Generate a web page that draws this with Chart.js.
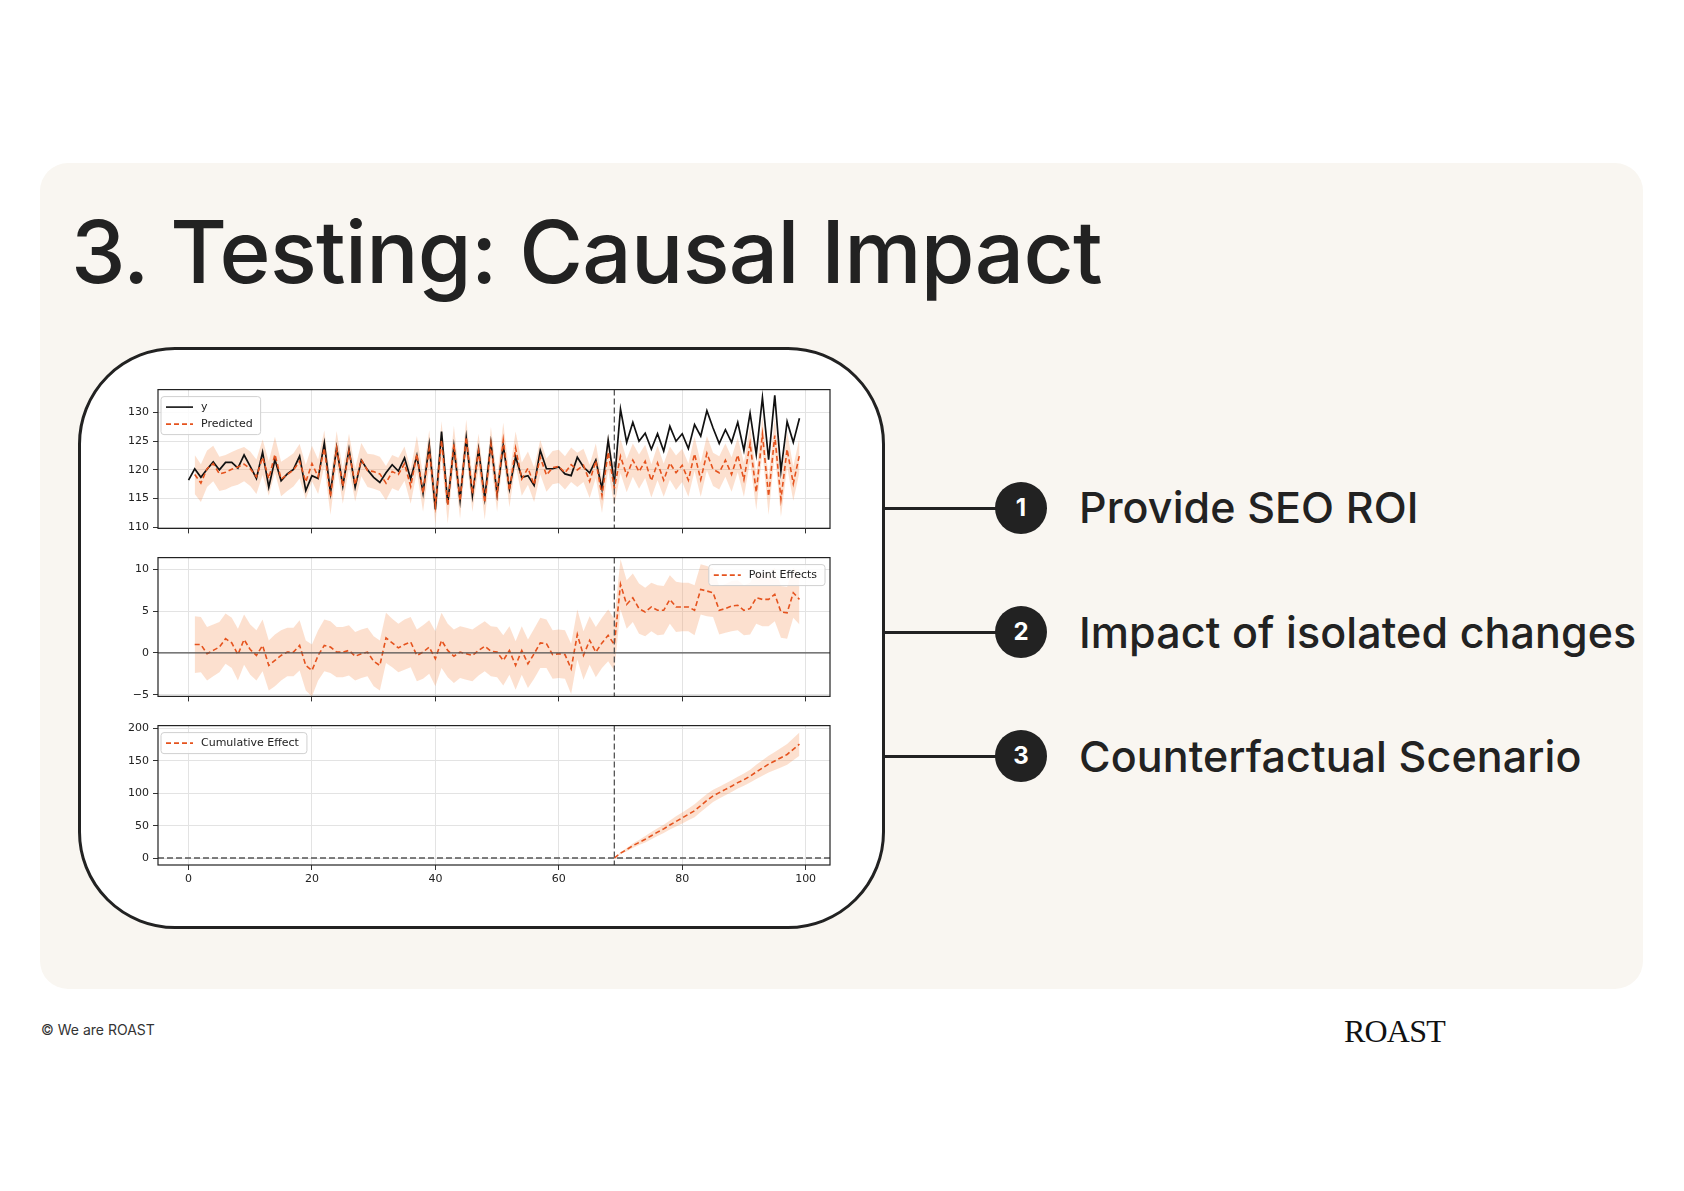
<!DOCTYPE html>
<html>
<head>
<meta charset="utf-8">
<title>3. Testing: Causal Impact</title>
<script src="https://cdn.jsdelivr.net/npm/chart.js@4.4.1/dist/chart.umd.min.js"></script>
<style>
  html, body { margin: 0; padding: 0; background: #ffffff; }
  body { width: 1684px; height: 1191px; position: relative; overflow: hidden; font-family: Inter, "Noto Sans", sans-serif; color: #222; }
  .card { position: absolute; left: 40px; top: 163px; width: 1603px; height: 826px; background: #f9f6f1; border-radius: 28px; }
  .title { position: absolute; left: 71px; top: 208px; font-size: 87px; line-height: 87px; font-weight: 500; color: #222; white-space: nowrap; letter-spacing: -0.7px; }
  .frame { position: absolute; left: 78px; top: 347px; width: 807px; height: 582px; box-sizing: border-box; border: 3px solid #222; border-radius: 97px; background: #fff; }
  canvas { position: absolute; left: 100px; }
  .link { position: absolute; left: 885px; width: 112px; height: 3px; background: #222; }
  .dot { position: absolute; left: 995px; width: 52px; height: 52px; border-radius: 50%; background: #222; color: #fff; font-weight: 700; font-size: 24px; line-height: 52px; text-align: center; }
  .item { position: absolute; left: 1079px; font-size: 43px; line-height: 43px; font-weight: 500; white-space: nowrap; color: #222; letter-spacing: 0.1px; }
  .foot { position: absolute; left: 41px; top: 1022px; font-size: 14px; line-height: 16px; color: #333; }
  .logo { position: absolute; left: 1344px; top: 1015px; font-family: "Liberation Serif", "DejaVu Serif", serif; font-size: 32px; line-height: 32px; letter-spacing: -0.8px; color: #111; }
</style>
</head>
<body>
<div class="card"></div>
<div class="title">3. Testing: Causal Impact</div>
<div class="frame"></div>
<canvas id="topChart" width="732" height="160" style="top:379px"></canvas>
<canvas id="midChart" width="732" height="160" style="top:547px"></canvas>
<canvas id="cumChart" width="732" height="180" style="top:715px"></canvas>

<div class="link" style="top:507px"></div>
<div class="link" style="top:631px"></div>
<div class="link" style="top:755px"></div>
<div class="dot" style="top:482px">1</div>
<div class="dot" style="top:606px">2</div>
<div class="dot" style="top:730px">3</div>
<div class="item" style="top:486px">Provide SEO ROI</div>
<div class="item" style="top:611px">Impact of isolated changes</div>
<div class="item" style="top:735px">Counterfactual Scenario</div>

<div class="foot">© We are ROAST</div>
<div class="logo">ROAST</div>

<script>
// x axis
const xTicks = [0, 20, 40, 60, 80, 100];
const interventionAt = 69;

// observed y, t = 0..99
const observed = [
  118.2, 120.2, 118.7, 120.1, 121.4, 120.0, 121.3, 121.3, 120.3, 122.6,
  120.6, 118.5, 123.1, 117.0, 121.8, 118.1, 119.3, 120.1, 122.4, 116.4,
  119.0, 118.5, 124.7, 116.0, 123.9, 117.2, 123.6, 117.0, 121.7, 120.0,
  118.7, 117.8, 119.5, 120.9, 119.8, 122.1, 118.4, 122.5, 116.0, 124.4,
  113.1, 126.7, 114.1, 124.1, 114.7, 125.6, 115.5, 123.6, 115.1, 124.7,
  115.8, 124.3, 116.7, 122.3, 118.7, 119.0, 117.3, 123.4, 120.2, 120.2,
  120.5, 119.3, 119.0, 122.2, 120.5, 119.5, 121.7, 116.7, 125.2, 117.8,
  130.6, 124.8, 128.3, 125.0, 126.4, 123.6, 126.3, 123.3, 127.6, 125.0,
  126.3, 123.7, 127.9, 125.9, 130.3, 127.3, 124.6, 127.0, 124.8, 128.3,
  123.4, 129.9, 122.7, 132.6, 121.8, 133.0, 119.8, 128.4, 124.8, 129.0
];

// predicted, t = 1..99
const predStart = 1;
const predicted = [
  119.2, 117.7, 120.2, 121.1, 119.3, 119.6, 120.1, 120.5, 121.0,
  120.2, 118.8, 122.2, 118.5, 122.7, 118.4, 119.2, 120.0, 121.5, 117.9,
  121.1, 118.8, 123.8, 115.3, 123.8, 117.1, 123.3, 117.4, 121.8, 119.9,
  119.7, 119.3, 117.7, 119.7, 119.2, 121.1, 117.1, 122.8, 115.9, 123.7,
  113.8, 125.2, 113.8, 124.5, 114.6, 125.7, 115.8, 123.3, 114.3, 124.5,
  115.7, 125.2, 116.4, 123.8, 118.4, 120.3, 117.4, 122.2, 119.1, 120.4,
  120.6, 119.5, 120.9, 120.0, 120.8, 118.0, 121.6, 115.5, 123.1, 116.8,
  122.4, 119.0, 121.7, 119.7, 121.5, 118.1, 121.2, 118.2, 121.2, 119.5,
  120.8, 118.2, 122.8, 118.3, 122.9, 120.1, 119.5, 121.7, 119.2, 122.6,
  118.3, 124.6, 116.1, 126.2, 115.4, 126.0, 114.9, 123.6, 117.6, 122.6
];

// half width of the prediction interval, t = 1..99
const predSpread = [
  3.4, 3.3, 3.2, 3.1, 3.0, 3.0, 3.0, 3.1, 3.0,
  3.0, 3.0, 3.1, 3.0, 3.1, 3.0, 2.9, 2.9, 3.0, 3.0,
  3.1, 3.0, 3.1, 3.1, 3.0, 3.0, 3.0, 2.9, 2.9, 2.9,
  3.0, 3.0, 3.0, 2.9, 2.9, 3.0, 3.0, 3.1, 3.2, 3.2,
  3.3, 3.3, 3.2, 3.2, 3.1, 3.1, 3.1, 3.0, 3.0, 3.0,
  3.0, 3.0, 2.9, 2.9, 2.9, 2.9, 3.0, 3.0, 2.9, 2.9,
  2.9, 2.9, 3.0, 3.0, 2.9, 2.9, 3.0, 3.0, 3.1, 3.1,
  3.0, 2.9, 2.9, 3.0, 2.9, 2.9, 3.0, 2.9, 2.9, 3.0,
  2.9, 2.9, 3.0, 3.0, 3.0, 2.9, 2.9, 2.9, 3.0, 3.0,
  3.0, 3.1, 3.1, 3.2, 3.2, 3.2, 3.1, 3.1, 3.0, 3.0
];

// point effects, t = 1..99
const effects = [
  1.0, 1.0, -0.1, 0.3, 0.7, 1.7, 1.2, -0.2, 1.6,
  0.4, -0.3, 0.9, -1.5, -0.9, -0.3, 0.1, 0.1, 0.9, -1.5,
  -2.1, -0.3, 0.9, 0.7, 0.1, 0.1, 0.3, -0.4, -0.1, 0.1,
  -1.0, -1.5, 1.8, 1.2, 0.6, 1.0, 1.3, -0.3, 0.1, 0.7,
  -0.7, 1.5, 0.3, -0.4, 0.1, -0.1, -0.3, 0.3, 0.8, 0.2,
  0.1, -0.9, 0.3, -1.5, 0.3, -1.3, -0.1, 1.2, 1.1, -0.2,
  -0.1, -0.2, -1.9, 2.2, -0.3, 1.5, 0.1, 1.2, 2.1, 1.0,
  8.2, 5.8, 6.6, 5.3, 4.9, 5.5, 5.1, 5.1, 6.4, 5.5,
  5.5, 5.5, 5.1, 7.6, 7.4, 7.2, 5.1, 5.3, 5.6, 5.7,
  5.1, 5.3, 6.6, 6.4, 6.4, 7.0, 4.9, 4.8, 7.2, 6.4
];

// cumulative effect, t = 69..99
const cumStart = 69;
const cumulative = [
  0, 7.5, 13, 19, 24, 29, 34.5, 40, 45, 51, 56.5,
  62, 67.5, 73, 81, 89, 96, 101, 106, 111, 116.5,
  121, 126.5, 133, 139, 145, 150, 155, 160, 168, 176
];
const cumSpread = [
  0, 1.5, 2.5, 3.5, 4, 5, 5.5, 6, 6.5, 7, 8,
  8.5, 9, 10, 10, 10, 9.5, 9, 9, 9, 9,
  9.5, 10, 11, 12, 13, 14, 15, 16, 17, 18
];

const topTicks = [110, 115, 120, 125, 130];
const midTicks = [-5, 0, 5, 10];
const cumTicks = [0, 50, 100, 150, 200];

const ORANGE = "#e5531e";
const BAND = "rgba(246,160,105,0.32)";
const AXIS_FONT = { family: "DejaVu Sans", size: 11 };

function points(values, start) {
  return values.map(function (v, i) { return { x: start + i, y: v }; });
}
function shifted(values, spread, start, sign) {
  return values.map(function (v, i) { return { x: start + i, y: v + sign * spread[i] }; });
}

// box round each axes, like matplotlib spines
const framePlugin = {
  id: "frame",
  afterDraw(chart) {
    const a = chart.chartArea, ctx = chart.ctx;
    ctx.save();
    ctx.strokeStyle = "#222";
    ctx.lineWidth = 1.2;
    ctx.strokeRect(a.left, a.top, a.right - a.left, a.bottom - a.top);
    ctx.restore();
  },
};

// intervention line and zero lines
const refLines = {
  id: "refLines",
  afterDatasetsDraw(chart, args, opts) {
    const a = chart.chartArea, ctx = chart.ctx;
    const xs = chart.scales.x, ys = chart.scales.y;
    ctx.save();
    ctx.strokeStyle = "#555";
    if (opts.zero) {
      const y0 = ys.getPixelForValue(0);
      ctx.lineWidth = opts.zero === "dashed" ? 1.5 : 1.3;
      ctx.setLineDash(opts.zero === "dashed" ? [6, 3] : []);
      ctx.beginPath();
      ctx.moveTo(a.left, y0);
      ctx.lineTo(a.right, y0);
      ctx.stroke();
    }
    const xi = xs.getPixelForValue(interventionAt);
    ctx.lineWidth = 1.3;
    ctx.setLineDash([6, 3]);
    ctx.beginPath();
    ctx.moveTo(xi, a.top);
    ctx.lineTo(xi, a.bottom);
    ctx.stroke();
    ctx.restore();
  },
};

// matplotlib style legend inside the axes
const boxLegend = {
  id: "boxLegend",
  afterDraw(chart, args, opts) {
    const items = chart.data.datasets.filter(function (d) { return d.inLegend; });
    const a = chart.chartArea, ctx = chart.ctx;
    ctx.save();
    ctx.font = '11px "DejaVu Sans"';
    let textW = 0;
    items.forEach(function (d) { textW = Math.max(textW, ctx.measureText(d.label).width); });
    const rowH = 17;
    const w = 41 + textW + 7;
    const h = items.length * rowH + 4;
    const x = opts.align === "right" ? a.right - 5 - w : a.left + 3;
    const y = a.top + 7;
    ctx.beginPath();
    ctx.roundRect(x, y, w, h, 3);
    ctx.fillStyle = "rgba(255,255,255,0.85)";
    ctx.fill();
    ctx.strokeStyle = "#d0d0d0";
    ctx.lineWidth = 1;
    ctx.stroke();
    items.forEach(function (d, i) {
      const cy = y + 2 + rowH * i + rowH / 2;
      ctx.strokeStyle = d.borderColor;
      ctx.lineWidth = 1.6;
      ctx.setLineDash(d.borderDash || []);
      ctx.beginPath();
      ctx.moveTo(x + 5, cy);
      ctx.lineTo(x + 32, cy);
      ctx.stroke();
      ctx.setLineDash([]);
      ctx.fillStyle = "#222";
      ctx.textBaseline = "middle";
      ctx.fillText(d.label, x + 40, cy);
    });
    ctx.restore();
  },
};

function minusLabel(v) {
  return v < 0 ? "\u2212" + Math.abs(v) : String(v);
}

function makePanel(id, datasets, ticks, yMin, yMax, showX, zero, legendAlign) {
  const ctx = document.getElementById(id).getContext("2d");
  return new Chart(ctx, {
    type: "line",
    data: { datasets: datasets },
    options: {
      responsive: false,
      animation: false,
      layout: { padding: { top: 10, right: 2, left: 0, bottom: 0 } },
      elements: { point: { radius: 0 }, line: { tension: 0 } },
      plugins: {
        legend: { display: false },
        tooltip: { enabled: false },
        refLines: { zero: zero },
        boxLegend: { align: legendAlign },
      },
      scales: {
        x: {
          type: "linear",
          min: -4.95,
          max: 103.95,
          afterBuildTicks: function (s) { s.ticks = xTicks.map(function (v) { return { value: v }; }); },
          afterFit: function (s) { s.height = showX ? 30 : 10; },
          ticks: { display: showX, color: "#222", font: AXIS_FONT, padding: 3, maxRotation: 0 },
          grid: { color: "#e3e3e3", tickColor: "#333", tickLength: 5, drawTicks: true },
          border: { display: false },
        },
        y: {
          min: yMin,
          max: yMax,
          afterBuildTicks: function (s) { s.ticks = ticks.map(function (v) { return { value: v }; }); },
          afterFit: function (s) { s.width = 58; },
          ticks: { color: "#222", font: AXIS_FONT, padding: 4, callback: minusLabel },
          grid: { color: "#e3e3e3", tickColor: "#333", tickLength: 5, drawTicks: true },
          border: { display: false },
        },
      },
    },
    plugins: [refLines, framePlugin, boxLegend],
  });
}

function bandSets(values, spread, start) {
  return [
    { label: "lower", data: shifted(values, spread, start, -1), borderWidth: 0, borderColor: "rgba(0,0,0,0)", fill: false, order: 5 },
    { label: "upper", data: shifted(values, spread, start, 1), borderWidth: 0, borderColor: "rgba(0,0,0,0)", backgroundColor: BAND, fill: "-1", order: 5 },
  ];
}

document.addEventListener("DOMContentLoaded", function () {
  makePanel("topChart", bandSets(predicted, predSpread, predStart).concat([
    { label: "y", inLegend: true, data: points(observed, 0), borderColor: "#111", borderWidth: 1.7, order: 1 },
    { label: "Predicted", inLegend: true, data: points(predicted, predStart), borderColor: ORANGE, borderWidth: 1.6, borderDash: [5, 3], order: 0 },
  ]), topTicks, 109.8, 134.0, false, null, "left");

  makePanel("midChart", bandSets(effects, predSpread, predStart).concat([
    { label: "Point Effects", inLegend: true, data: points(effects, predStart), borderColor: ORANGE, borderWidth: 1.6, borderDash: [5, 3], order: 0 },
  ]), midTicks, -5.2, 11.4, false, "solid", "right");

  makePanel("cumChart", bandSets(cumulative, cumSpread, cumStart).concat([
    { label: "Cumulative Effect", inLegend: true, data: points(cumulative, cumStart), borderColor: ORANGE, borderWidth: 1.6, borderDash: [5, 3], order: 0 },
  ]), cumTicks, -10.8, 204.6, true, "dashed", "left");
});
</script>
</body>
</html>
